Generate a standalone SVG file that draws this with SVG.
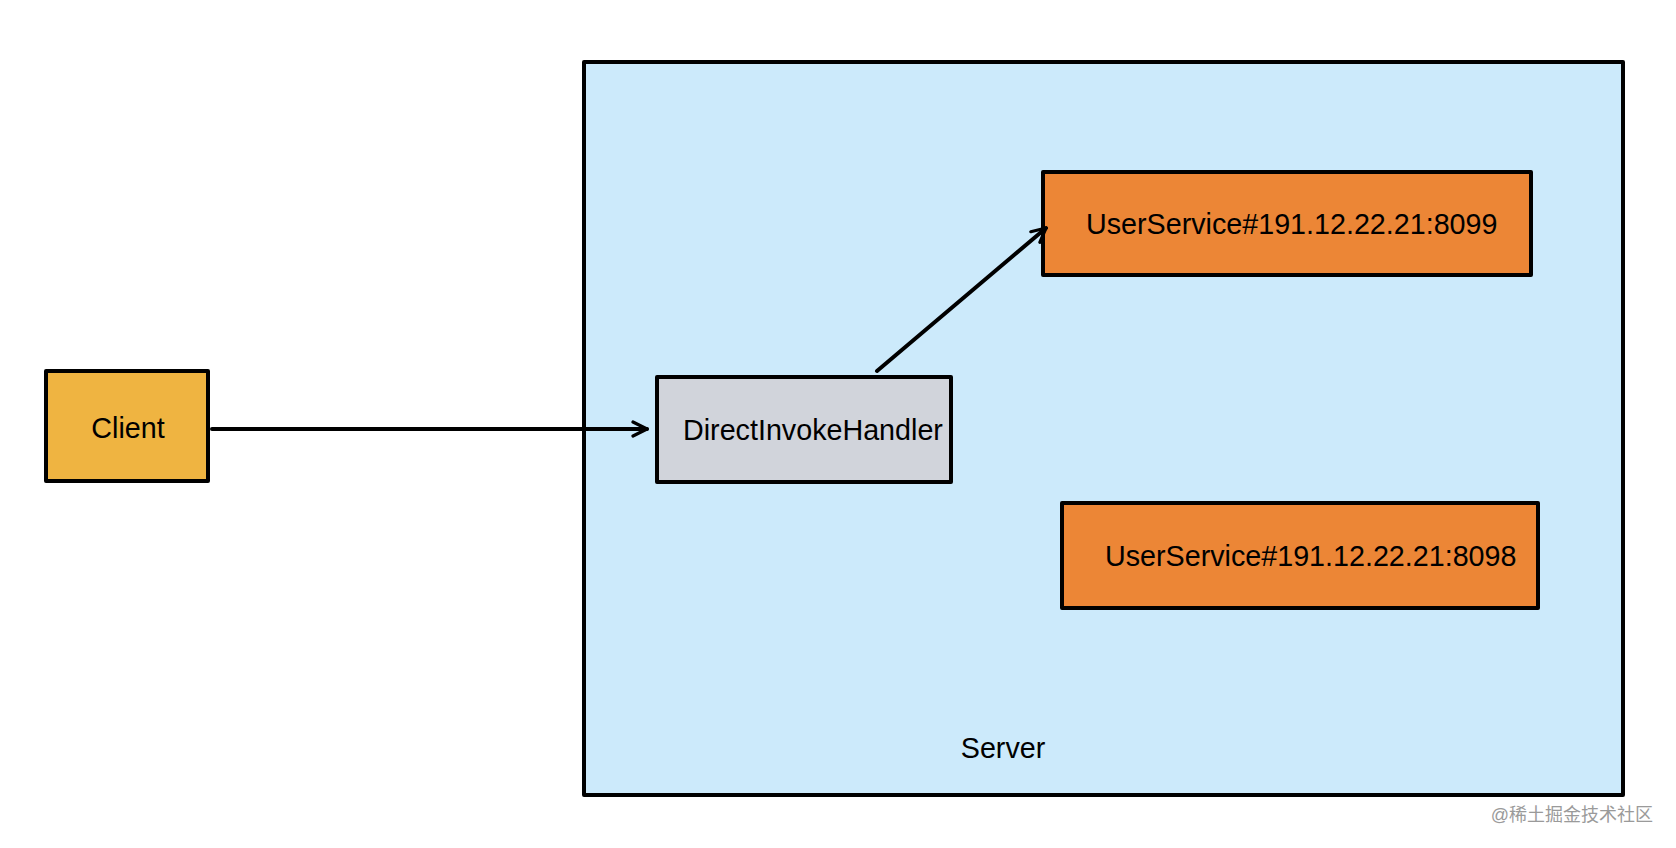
<svg xmlns="http://www.w3.org/2000/svg" width="1676" height="848" viewBox="0 0 1676 848">
<style>
.box{stroke:#000;stroke-width:4;stroke-linejoin:round}
.lbl{font-family:"Liberation Sans",Arial,sans-serif;font-size:28.7px;fill:#000}
.conn{stroke:#000;stroke-width:4;fill:none;stroke-linecap:round}
.wm{font-family:"Liberation Sans","Noto Sans CJK SC",sans-serif;font-size:18px;fill:#9a9a9a}
</style>
<defs>
<marker id="arr" viewBox="0 0 20 20" refX="18" refY="10" markerWidth="20" markerHeight="20" markerUnits="userSpaceOnUse" orient="auto">
<path d="M4,3 L18,10 L4,17" fill="none" stroke="#000" stroke-width="3.2" stroke-linecap="round" stroke-linejoin="round"/>
</marker>
</defs>
<rect width="1676" height="848" fill="#fff"/>
<g id="server">
<rect class="box" x="584" y="62" width="1039" height="733" fill="#CCEAFB"/>
<text class="lbl" x="1003" y="758" text-anchor="middle">Server</text>
</g>
<g id="client">
<rect class="box" x="46" y="371" width="162" height="110" fill="#EFB441"/>
<text class="lbl" x="128" y="438" text-anchor="middle">Client</text>
</g>
<g id="handler">
<rect class="box" x="657" y="377" width="294" height="105" fill="#D1D4DB"/>
<text class="lbl" x="683" y="440">DirectInvokeHandler</text>
</g>
<g id="svc8099">
<rect class="box" x="1043" y="172" width="488" height="103" fill="#EC8636"/>
<text class="lbl" x="1086" y="234">UserService#191.12.22.21:8099</text>
</g>
<g id="svc8098">
<rect class="box" x="1062" y="503" width="476" height="105" fill="#EC8636"/>
<text class="lbl" x="1105" y="566">UserService#191.12.22.21:8098</text>
</g>
<g id="connectors">
<line class="conn" x1="212" y1="429" x2="647" y2="429" marker-end="url(#arr)"/>
<line class="conn" x1="877" y1="371" x2="1046" y2="228" marker-end="url(#arr)"/>
</g>
<text class="wm" x="1653" y="821" text-anchor="end">@稀土掘金技术社区</text>
</svg>
